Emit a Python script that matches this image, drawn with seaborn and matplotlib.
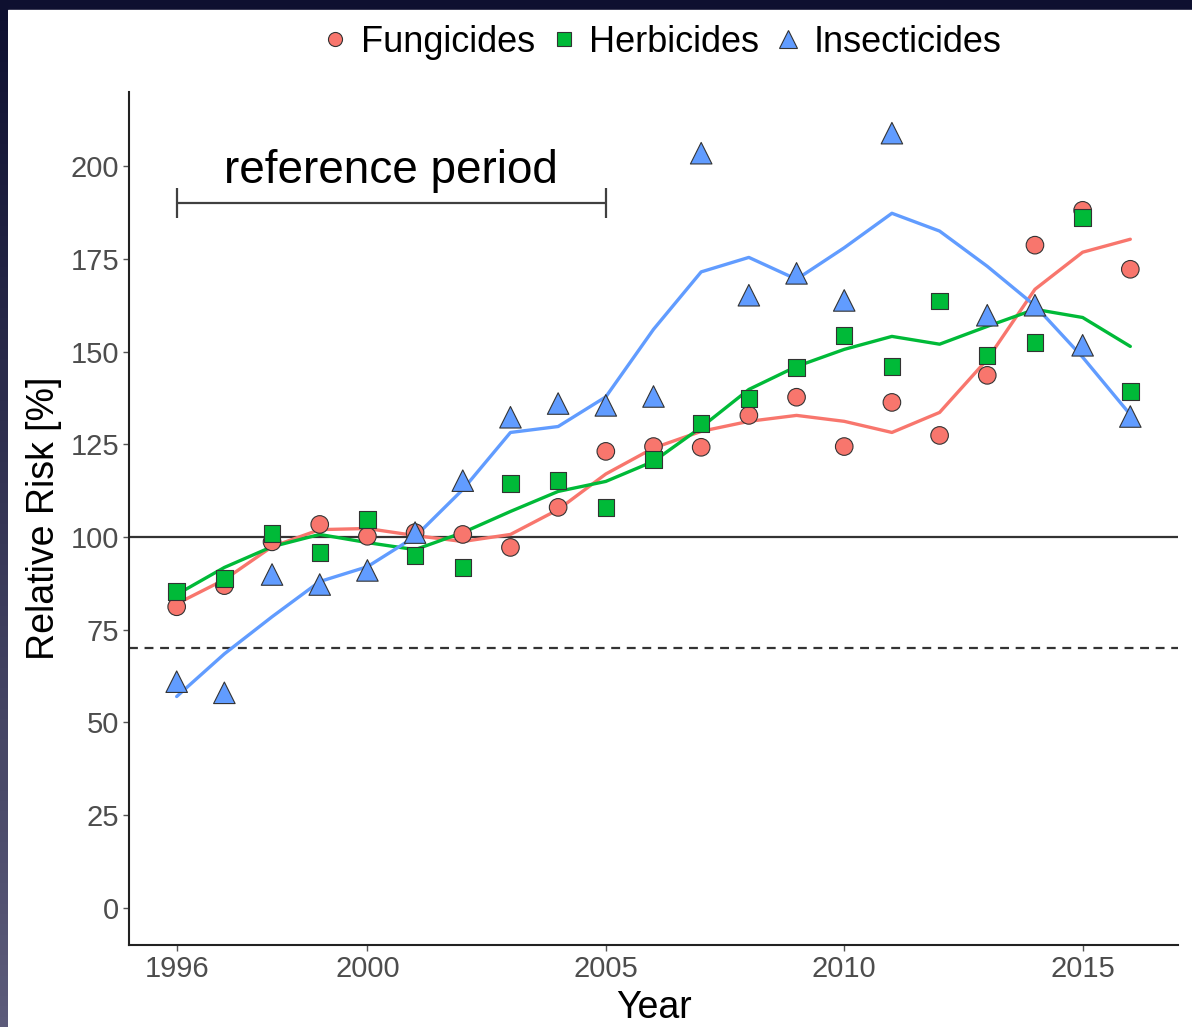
import numpy as np
import pandas as pd
import matplotlib.pyplot as plt
import matplotlib.patches as mpatches
import seaborn as sns

years = list(range(1996, 2017))
groups = ["Fungicides", "Herbicides", "Insecticides"]

fungicides = [81.2, 86.9, 98.7, 103.4, 100.2, 101.2, 100.7, 97.2, 108.0, 123.1, 124.4,
              124.2, 132.8, 137.7, 124.4, 136.3, 127.4, 143.6, 178.7, 188.1, 172.2]
herbicides = [85.3, 88.8, 100.9, 95.8, 104.7, 95.0, 91.8, 114.4, 115.2, 108.0, 120.9,
              130.6, 137.4, 145.7, 154.4, 146.0, 163.6, 149.0, 152.5, 186.2, 139.3]
insecticides = [61.0, 58.0, 89.9, 87.2, 91.0, 101.2, 115.2, 132.3, 136.0, 135.5, 137.9,
                203.5, 165.2, 171.1, 163.8, 208.9, np.nan, 159.8, 162.5, 151.7, 132.5]

# smoothed trend lines
fung_smooth = [82.0, 88.5, 97.4, 102.0, 102.3, 100.4, 98.8, 100.7, 107.4, 117.0, 124.0,
               128.5, 131.2, 132.8, 131.2, 128.2, 133.6, 147.9, 166.8, 176.8, 180.3]
herb_smooth = [84.5, 91.8, 97.4, 100.7, 98.5, 96.6, 101.2, 106.9, 112.3, 115.0, 120.4,
               129.6, 139.8, 146.0, 150.6, 154.1, 152.0, 156.8, 161.4, 159.2, 151.4]
inse_smooth = [57.0, 68.5, 78.5, 88.0, 92.0, 100.1, 112.8, 128.2, 129.8, 137.8, 156.0,
               171.5, 175.4, 169.5, 178.0, 187.3, 182.5, 173.0, 162.4, 148.5, 133.0]

baseline = 100
threshold = 70
ref_period = [1996, 2005]
ref_level = 190

palette = {"Fungicides": "#F8766D", "Herbicides": "#00BA38", "Insecticides": "#619CFF"}
markers = {"Fungicides": "o", "Herbicides": "s", "Insecticides": "^"}
sizes = {"Fungicides": 160, "Herbicides": 140, "Insecticides": 240}

points = pd.DataFrame({
    "Year": years * 3,
    "Risk": fungicides + herbicides + insecticides,
    "Group": np.repeat(groups, len(years)),
})
trends = pd.DataFrame({
    "Year": years * 3,
    "Risk": fung_smooth + herb_smooth + inse_smooth,
    "Group": np.repeat(groups, len(years)),
})

sns.set_style("white")
plt.rcParams["font.family"] = ["Liberation Sans", "DejaVu Sans"]

fig = plt.figure(figsize=(11.92, 10.27), dpi=100)
fig.patch.set_facecolor("#0e1030")
# white slide area plus a faded strip on the left edge
fig.patches.append(mpatches.Rectangle((8 / 1192, 0), 1, 1 - 10 / 1027,
                                      transform=fig.transFigure, color="white", zorder=-10))
strip = fig.add_axes([0, 0, 8 / 1192, 1])
strip.imshow(np.linspace(0, 1, 100).reshape(-1, 1), aspect="auto",
             cmap=sns.blend_palette(["#0e1030", "#5c5b7a"], as_cmap=True))
strip.axis("off")

ax = fig.add_axes([129 / 1192, 1 - 945 / 1027, 1049 / 1192, 853 / 1027])
ax.set_facecolor("white")

ax.axhline(baseline, color="#333333", lw=1.6, zorder=1)
ax.axhline(threshold, color="#333333", lw=1.6, ls=(0, (4, 3)), zorder=1)

sns.lineplot(data=trends, x="Year", y="Risk", hue="Group", palette=palette,
             lw=2.4, legend=False, ax=ax, zorder=2)
sns.scatterplot(data=points, x="Year", y="Risk", hue="Group", style="Group",
                size="Group", sizes=sizes, palette=palette, markers=markers,
                edgecolor="#333333", linewidth=0.8, ax=ax, zorder=3)

# reference period bracket
ax.errorbar(np.mean(ref_period), ref_level, xerr=np.diff(ref_period)[0] / 2,
            color="#404040", lw=1.6, capsize=11, capthick=1.6)
ax.text(np.mean(ref_period), 198.8, "reference period", ha="center", va="center",
        fontsize=33, color="black")

ax.set_xlim(1995, 2017)
ax.set_ylim(-10, 220)
ax.set_xticks([1996, 2000, 2005, 2010, 2015])
ax.set_yticks(range(0, 201, 25))
ax.tick_params(axis="both", length=4, width=1, color="#555555",
               labelsize=21, labelcolor="#4d4d4d", pad=3, bottom=True, left=True)
ax.set_xlabel("Year", fontsize=27, color="black", labelpad=5)
ax.set_ylabel("Relative Risk [%]", fontsize=27, color="black", labelpad=6)

sns.despine(ax=ax)
for side in ["left", "bottom"]:
    ax.spines[side].set_color("#222222")
    ax.spines[side].set_linewidth(1.5)

sns.move_legend(ax, "center", bbox_to_anchor=(0.508, 1.058), ncol=3, title=None,
                frameon=False, fontsize=26, handlelength=0.7, handletextpad=0.35,
                columnspacing=0.45, markerscale=0.8, labelcolor="black")

fig.savefig("out.png", dpi=100, facecolor=fig.get_facecolor())
